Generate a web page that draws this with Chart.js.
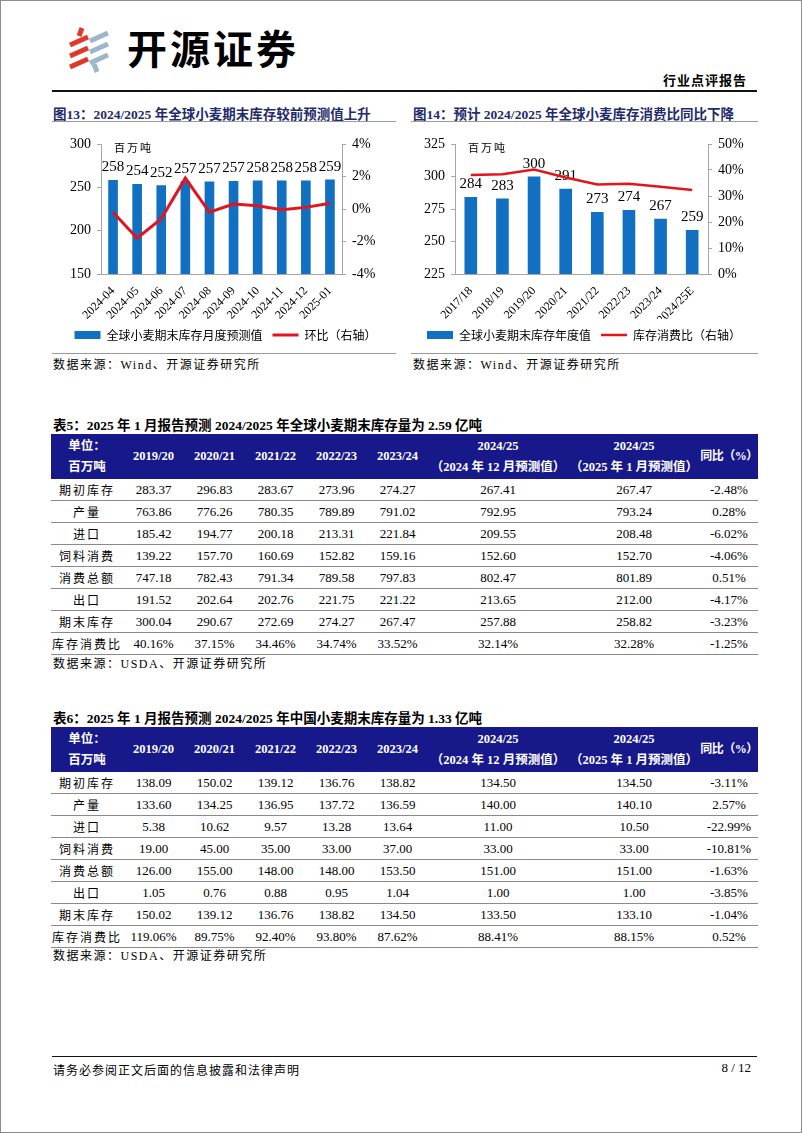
<!DOCTYPE html>
<html>
<head>
<meta charset="utf-8">
<script src="https://cdn.jsdelivr.net/npm/chart.js@4.4.1/dist/chart.umd.min.js"></script>
<style>
  html, body { margin: 0; padding: 0; background: #fff; }
  #page { position: relative; width: 800px; height: 1131px; border: 1px solid #8c8c8c; overflow: hidden;
          font-family: "Liberation Serif", "Noto Sans CJK SC", serif; color: #000; }
  .abs { position: absolute; }
  .cn { font-family: "Liberation Serif", "Noto Sans CJK SC", serif; }
  .figtitle { font-size: 13.5px; font-weight: bold; color: #1f2b6a; white-space: nowrap; }
  .tabtitle { font-size: 13.5px; font-weight: bold; color: #000; white-space: nowrap; }
  .rule { height: 0; border-top: 1px solid #9a9a9a; }
  .src { font-size: 12px; letter-spacing: 1.5px; white-space: nowrap; }
  table { border-collapse: collapse; table-layout: fixed; }
  th { background: #17188a; color: #fff; font-weight: bold; font-size: 12.5px; line-height: 21px; padding: 0; text-align: center; white-space: nowrap; }
  td { height: 21px; padding: 0; text-align: center; font-size: 13px; border-bottom: 1px solid #8a8a8a; white-space: nowrap; }
  td.lab { font-size: 12px; letter-spacing: 2px; }
</style>
</head>
<body>
<div id="page">
  <!-- header -->
  <svg class="abs" style="left:66px;top:25px" width="44" height="48" viewBox="0 0 44 48">
    <g stroke="#e0392b" stroke-width="5" stroke-linecap="butt">
      <line x1="3" y1="19" x2="21" y2="11"/>
      <line x1="3" y1="30" x2="21" y2="22"/>
      <line x1="3" y1="41" x2="21" y2="33"/>
      <line x1="12" y1="10" x2="15" y2="2"/>
    </g>
    <g stroke="#9bb7c9" stroke-width="5" stroke-linecap="butt">
      <line x1="23" y1="15" x2="41" y2="7"/>
      <line x1="23" y1="26" x2="41" y2="18"/>
      <line x1="23" y1="37" x2="41" y2="29"/>
      <line x1="27" y1="38" x2="30" y2="46"/>
    </g>
  </svg>
  <div class="abs" style="left:126px;top:20px;font-family:'Noto Sans CJK SC';font-weight:bold;font-size:40px;letter-spacing:3px;line-height:52px;">开源证券</div>
  <div class="abs cn" style="right:54px;top:73px;font-size:13px;font-weight:bold;letter-spacing:1px;line-height:14px;">行业点评报告</div>
  <div class="abs" style="left:51px;top:89px;width:705px;border-top:2px solid #111;"></div>

  <!-- figure titles -->
  <div class="abs figtitle" style="left:52px;top:102px;">图13：2024/2025 年全球小麦期末库存较前预测值上升</div>
  <div class="abs rule" style="left:51px;top:120px;width:344px;"></div>
  <div class="abs figtitle" style="left:412px;top:102px;">图14：预计 2024/2025 年全球小麦库存消费比同比下降</div>
  <div class="abs rule" style="left:410px;top:120px;width:347px;"></div>

  <canvas id="c1" class="abs" style="left:52px;top:125px" width="345" height="225"></canvas>
  <canvas id="c2" class="abs" style="left:408px;top:125px" width="350" height="225"></canvas>

  <div class="abs rule" style="left:51px;top:352px;width:344px;"></div>
  <div class="abs src" style="left:52px;top:354px;">数据来源：Wind、开源证券研究所</div>
  <div class="abs rule" style="left:410px;top:352px;width:347px;"></div>
  <div class="abs src" style="left:412px;top:354px;">数据来源：Wind、开源证券研究所</div>

  <!-- table 5 -->
  <div class="abs tabtitle" style="left:52px;top:413px;">表5：2025 年 1 月报告预测 2024/2025 年全球小麦期末库存量为 2.59 亿吨</div>
  <table id="t5" class="abs" style="left:50px;top:433px;width:707px;"></table>
  <div class="abs src" style="left:52px;top:653px;">数据来源：USDA、开源证券研究所</div>

  <!-- table 6 -->
  <div class="abs tabtitle" style="left:52px;top:706px;">表6：2025 年 1 月报告预测 2024/2025 年中国小麦期末库存量为 1.33 亿吨</div>
  <table id="t6" class="abs" style="left:50px;top:726px;width:707px;"></table>
  <div class="abs src" style="left:52px;top:945px;">数据来源：USDA、开源证券研究所</div>

  <!-- footer -->
  <div class="abs" style="left:51px;top:1055px;width:705px;border-top:1.5px solid #111;"></div>
  <div class="abs cn" style="left:52px;top:1060px;font-size:12px;letter-spacing:1px;">请务必参阅正文后面的信息披露和法律声明</div>
  <div class="abs" style="right:50px;top:1059px;font-size:13px;">8 / 12</div>
</div>

<script>
// ---- figure 13 data ----
const monthLabels = ['2024-04', '2024-05', '2024-06', '2024-07', '2024-08', '2024-09', '2024-10', '2024-11', '2024-12', '2025-01'];
const monthStock = [258.4, 253.8, 252.3, 257.1, 256.6, 257.4, 257.9, 257.8, 258.0, 258.9];
const monthChange = [-0.2, -1.8, -0.6, 1.9, -0.2, 0.3, 0.2, -0.05, 0.1, 0.35];

// ---- figure 14 data ----
const yearLabels = ['2017/18', '2018/19', '2019/20', '2020/21', '2021/22', '2022/23', '2023/24', '2024/25E'];
const yearStock = [284.2, 283.1, 300.04, 290.67, 272.69, 274.27, 267.47, 258.82];
const yearRatio = [38.1, 38.4, 40.16, 37.15, 34.46, 34.74, 33.52, 32.28];

// ---- table 5 (global) ----
const tableCols = ['2019/20', '2020/21', '2021/22', '2022/23', '2023/24'];
const tableRowNames = ['期初库存', '产量', '进口', '饲料消费', '消费总额', '出口', '期末库存', '库存消费比'];
const t5Begin = ['283.37', '296.83', '283.67', '273.96', '274.27', '267.41', '267.47', '-2.48%'];
const t5Prod = ['763.86', '776.26', '780.35', '789.89', '791.02', '792.95', '793.24', '0.28%'];
const t5Import = ['185.42', '194.77', '200.18', '213.31', '221.84', '209.55', '208.48', '-6.02%'];
const t5Feed = ['139.22', '157.70', '160.69', '152.82', '159.16', '152.60', '152.70', '-4.06%'];
const t5Cons = ['747.18', '782.43', '791.34', '789.58', '797.83', '802.47', '801.89', '0.51%'];
const t5Export = ['191.52', '202.64', '202.76', '221.75', '221.22', '213.65', '212.00', '-4.17%'];
const t5End = ['300.04', '290.67', '272.69', '274.27', '267.47', '257.88', '258.82', '-3.23%'];
const t5Ratio = ['40.16%', '37.15%', '34.46%', '34.74%', '33.52%', '32.14%', '32.28%', '-1.25%'];

// ---- table 6 (China) ----
const t6Begin = ['138.09', '150.02', '139.12', '136.76', '138.82', '134.50', '134.50', '-3.11%'];
const t6Prod = ['133.60', '134.25', '136.95', '137.72', '136.59', '140.00', '140.10', '2.57%'];
const t6Import = ['5.38', '10.62', '9.57', '13.28', '13.64', '11.00', '10.50', '-22.99%'];
const t6Feed = ['19.00', '45.00', '35.00', '33.00', '37.00', '33.00', '33.00', '-10.81%'];
const t6Cons = ['126.00', '155.00', '148.00', '148.00', '153.50', '151.00', '151.00', '-1.63%'];
const t6Export = ['1.05', '0.76', '0.88', '0.95', '1.04', '1.00', '1.00', '-3.85%'];
const t6End = ['150.02', '139.12', '136.76', '138.82', '134.50', '133.50', '133.10', '-1.04%'];
const t6Ratio = ['119.06%', '89.75%', '92.40%', '93.80%', '87.62%', '88.41%', '88.15%', '0.52%'];

const BLUE = '#1170c2';
const RED = '#e3141b';
const AXIS = '#a6a6a6';
const SERIF = '"Liberation Serif", serif';
const CJK = '"Noto Sans CJK SC", sans-serif';

// value labels over the bars + the unit text, drawn right after the bar dataset
const barLabels = {
  id: 'barLabels',
  afterDatasetDraw(chart, args) {
    if (chart.data.datasets[args.index].type !== 'bar') return;
    const ctx = chart.ctx;
    const vals = chart.data.datasets[args.index].data;
    ctx.save();
    ctx.font = '15px ' + SERIF;
    ctx.fillStyle = '#000';
    ctx.textAlign = 'center';
    ctx.textBaseline = 'bottom';
    args.meta.data.forEach((bar, i) => {
      ctx.fillText(String(Math.round(vals[i])), bar.x, bar.y - 5);
    });
    ctx.font = '11px ' + CJK;
    ctx.letterSpacing = '2px';
    ctx.textAlign = 'left';
    ctx.textBaseline = 'middle';
    ctx.fillText('百万吨', chart.chartArea.left + 13, chart.chartArea.top + 4);
    ctx.restore();
  }
};

function makeChart(id, opts) {
  return new Chart(document.getElementById(id), {
    data: {
      labels: opts.labels,
      datasets: [
        { type: 'bar', label: opts.barName, data: opts.bars, backgroundColor: BLUE, borderWidth: 0,
          barPercentage: 0.4, categoryPercentage: 1, yAxisID: 'y', order: 2, pointStyle: 'rect' },
        { type: 'line', label: opts.lineName, data: opts.line, borderColor: RED, backgroundColor: RED,
          borderWidth: opts.lineWidth, pointRadius: 0, tension: 0, yAxisID: 'y1', order: 1, pointStyle: 'line' }
      ]
    },
    options: {
      responsive: false,
      animation: false,
      layout: { padding: { top: 18, left: 0, right: 0, bottom: 0 } },
      plugins: {
        tooltip: { enabled: false },
        legend: {
          position: 'bottom',
          labels: {
            usePointStyle: true, pointStyleWidth: 26, boxHeight: 8, padding: 10,
            color: '#000', font: { family: CJK, size: 12 },
            sort: (a, b) => a.datasetIndex - b.datasetIndex
          }
        }
      },
      scales: {
        x: {
          grid: { display: false },
          border: { color: AXIS },
          ticks: { color: '#000', font: { family: SERIF, size: 12 }, minRotation: 45, maxRotation: 45,
                   padding: 2, autoSkip: false },
          afterFit: s => { s.height = 45; }
        },
        y: {
          position: 'left', min: opts.yMin, max: opts.yMax,
          grid: { drawOnChartArea: false, tickLength: 4, color: AXIS },
          border: { color: AXIS },
          ticks: { stepSize: opts.yStep, color: '#000', font: { family: SERIF, size: 14 }, padding: 6 },
          afterFit: s => { s.width = opts.leftW; }
        },
        y1: {
          position: 'right', min: opts.rMin, max: opts.rMax,
          grid: { drawOnChartArea: false, tickLength: 4, color: AXIS },
          border: { color: AXIS },
          ticks: { stepSize: opts.rStep, color: '#000', font: { family: SERIF, size: 14 }, padding: 6,
                   callback: v => v + '%' },
          afterFit: s => { s.width = opts.rightW; }
        }
      }
    },
    plugins: [barLabels]
  });
}

makeChart('c1', {
  labels: monthLabels, bars: monthStock, line: monthChange,
  barName: '全球小麦期末库存月度预测值', lineName: '环比（右轴）', lineWidth: 3,
  yMin: 150, yMax: 300, yStep: 50, rMin: -4, rMax: 4, rStep: 2, leftW: 48, rightW: 56
});

makeChart('c2', {
  labels: yearLabels, bars: yearStock, line: yearRatio,
  barName: '全球小麦期末库存年度值', lineName: '库存消费比（右轴）', lineWidth: 2.5,
  yMin: 225, yMax: 325, yStep: 25, rMin: 0, rMax: 50, rStep: 10, leftW: 46, rightW: 51
});

function buildTable(id, rows) {
  const widths = [72, 61, 61, 61, 61, 61, 140, 132, 58];
  let html = '<colgroup>' + widths.map(w => '<col style="width:' + w + 'px">').join('') + '</colgroup>';
  html += '<tr style="height:45px">' +
    '<th>单位：<br>百万吨</th>' +
    tableCols.map(c => '<th>' + c + '</th>').join('') +
    '<th>2024/25<br>（2024 年 12 月预测值）</th>' +
    '<th>2024/25<br>（2025 年 1 月预测值）</th>' +
    '<th style="font-size:12px;letter-spacing:-0.5px">同比（%）</th></tr>';
  rows.forEach((r, i) => {
    html += '<tr><td class="lab">' + tableRowNames[i] + '</td>' + r.map(v => '<td>' + v + '</td>').join('') + '</tr>';
  });
  document.getElementById(id).innerHTML = html;
}

buildTable('t5', [t5Begin, t5Prod, t5Import, t5Feed, t5Cons, t5Export, t5End, t5Ratio]);
buildTable('t6', [t6Begin, t6Prod, t6Import, t6Feed, t6Cons, t6Export, t6End, t6Ratio]);
</script>
</body>
</html>
